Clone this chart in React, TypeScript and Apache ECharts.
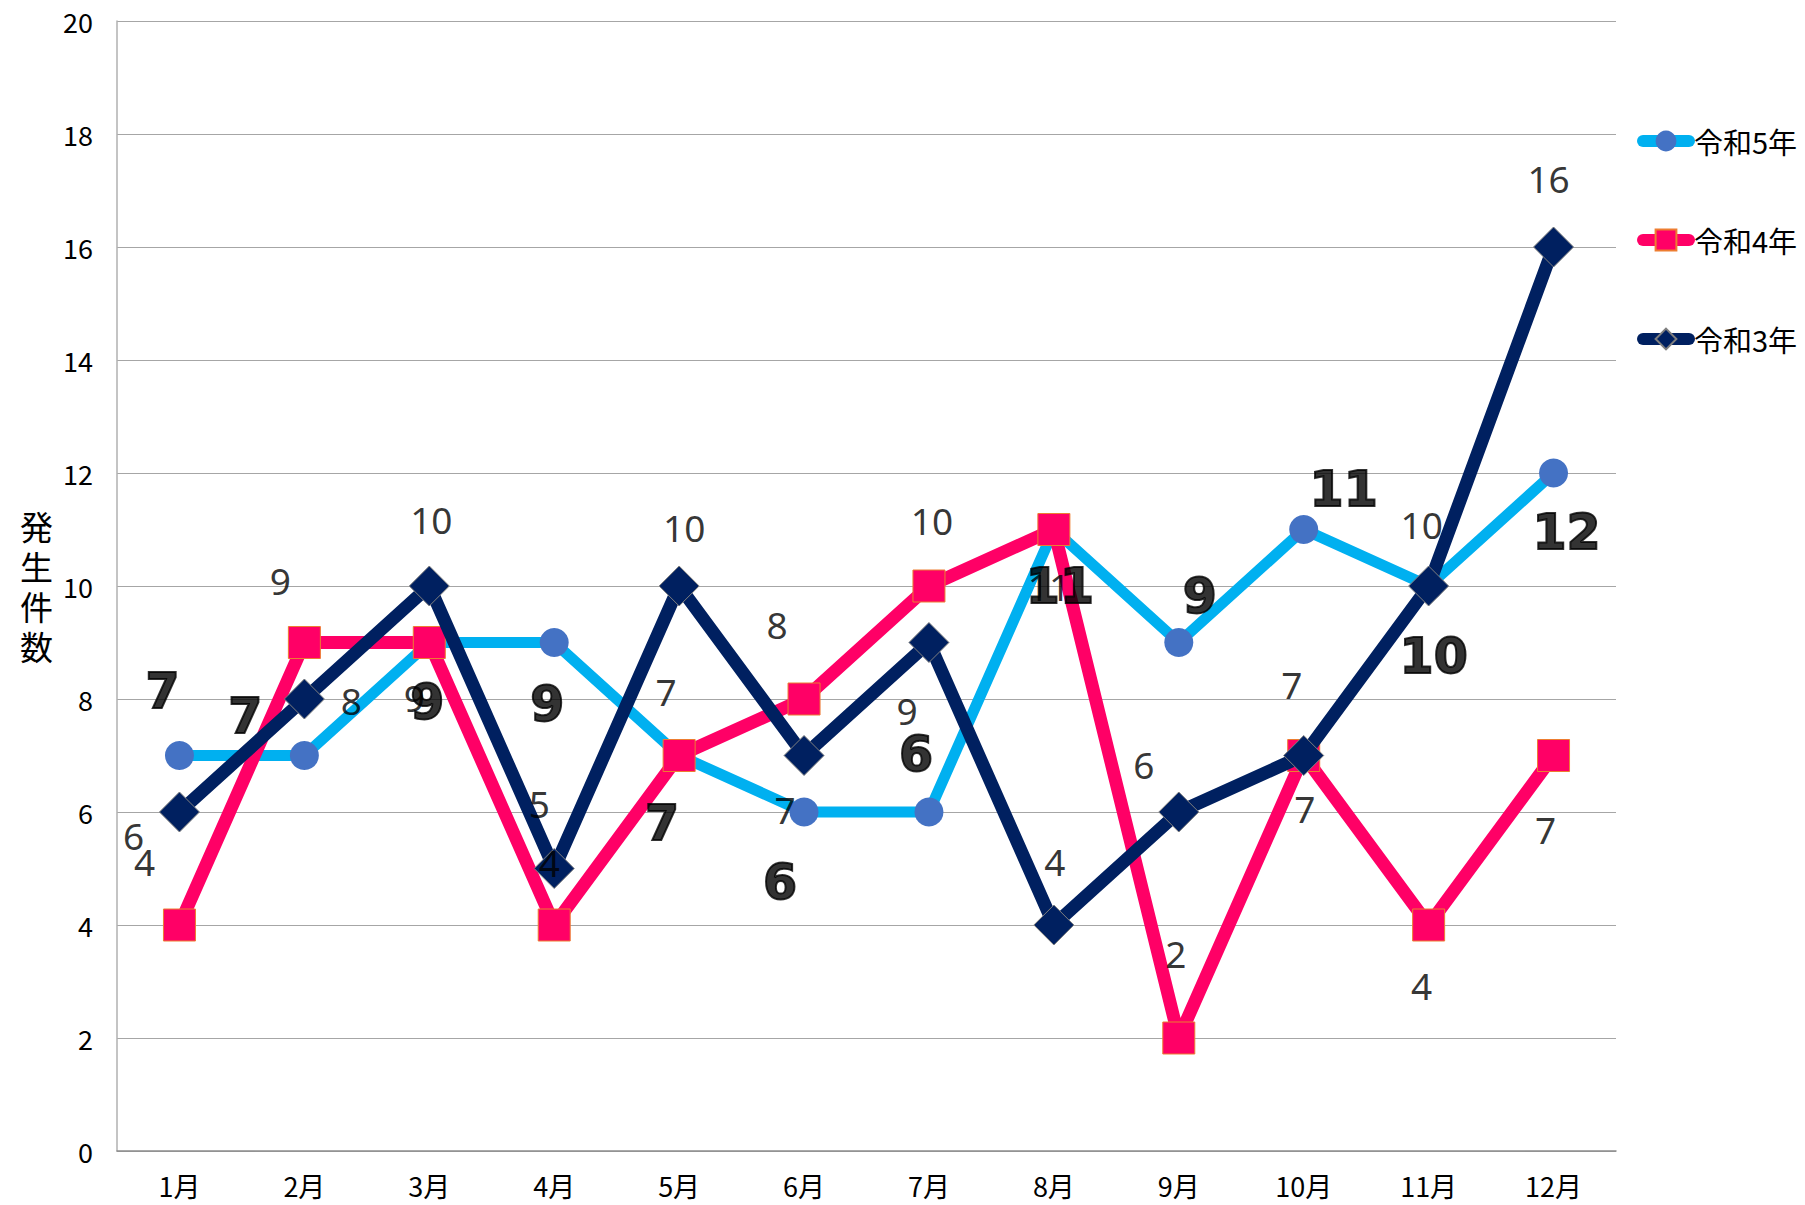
import React, { useEffect, useRef } from "react";
import * as echarts from "echarts";

const months = ["1月", "2月", "3月", "4月", "5月", "6月", "7月", "8月", "9月", "10月", "11月", "12月"];
const reiwa5 = [7, 7, 9, 9, 7, 6, 6, 11, 9, 11, 10, 12];
const reiwa4 = [4, 9, 9, 4, 7, 8, 10, 11, 2, 7, 4, 7];
const reiwa3 = [6, 8, 10, 5, 10, 7, 9, 4, 6, 7, 10, 16];
const seriesNames = ["令和5年", "令和4年", "令和3年"];
const yMin = 0;
const yMax = 20;
const yStep = 2;

// label offsets (px) relative to each point, as in the reference
const r5LabelOffsets = [[-17, -64], [-59, -39], [-2, 60], [-7, 62], [-17, 68], [-24, 70], [-13, -58], [6, 57], [21, -46], [40, -40], [5, 70], [13, 59]];
const r4LabelOffsets = [[-35, -64], [-24, -62], [-15, 55], [-5, -63], [-13, -64], [-27, -75], [3, -66], [-5, 57], [-3, -85], [1, 53], [-7, 60], [-8, 74]];
const r3LabelOffsets = [[-46, 23], [47, 1], [2, -67], [-15, -65], [5, -59], [-19, 54], [-22, 68], [1, -64], [-35, -48], [-12, -71], [-7, -62], [-5, -69]];

const JP = '"Noto Sans CJK JP", "Noto Sans", sans-serif';

function labelSeries(name: string, values: number[], offsets: number[][], z: number, style: any) {
  return {
    name,
    type: "scatter",
    z,
    silent: true,
    symbolSize: 1,
    itemStyle: { color: "rgba(0,0,0,0)" },
    label: {
      show: true,
      position: "inside",
      align: "center",
      verticalAlign: "middle",
      color: "#000",
      ...style,
    },
    data: values.map((v, i) => ({ value: v, label: { offset: offsets[i] } })),
  };
}

export default function App() {
  const ref = useRef<HTMLDivElement>(null);
  useEffect(() => {
    if (!ref.current) return;
    const chart = echarts.init(ref.current, undefined, { renderer: "svg" });
    const option: any = {
      animation: false,
      backgroundColor: "#ffffff",
      grid: { left: 117, right: 189, top: 21, bottom: 54, containLabel: false },
      legend: {
        data: seriesNames,
        orient: "vertical",
        left: 1632,
        top: 119,
        itemWidth: 46,
        itemHeight: 26,
        itemGap: 65,
        lineStyle: { width: 12, cap: "round" },
        textStyle: { fontFamily: JP, fontSize: 29, color: "#000", lineHeight: 34 },
      },
      xAxis: {
        type: "category",
        data: months,
        boundaryGap: true,
        axisLine: { lineStyle: { color: "#8c8c8c", width: 1.5 } },
        axisTick: { show: false },
        axisLabel: { fontFamily: JP, fontSize: 27, color: "#000", margin: 21 },
      },
      yAxis: {
        type: "value",
        min: yMin,
        max: yMax,
        interval: yStep,
        name: "発\n生\n件\n数",
        nameLocation: "middle",
        nameRotate: 0,
        nameGap: 64,
        nameTextStyle: { fontFamily: JP, fontSize: 33, color: "#000", lineHeight: 40 },
        axisLine: { show: true, lineStyle: { color: "#b0b0b0", width: 1.5 } },
        axisTick: { show: false },
        splitLine: { lineStyle: { color: "#a6a6a6", width: 1 } },
        axisLabel: { fontFamily: JP, fontSize: 27, color: "#000", margin: 24 },
      },
      series: [
        {
          name: seriesNames[0],
          type: "line",
          z: 2,
          data: reiwa5,
          symbol: "circle",
          symbolSize: 29,
          lineStyle: { color: "#00b0f0", width: 11, cap: "round", join: "round" },
          itemStyle: { color: "#4472c4", borderWidth: 0 },
        },
        {
          name: seriesNames[1],
          type: "line",
          z: 3,
          data: reiwa4,
          symbol: "rect",
          symbolSize: 32,
          lineStyle: { color: "#ff0066", width: 13, cap: "round", join: "round" },
          itemStyle: { color: "#ff0066", borderColor: "#ed7d31", borderWidth: 1 },
        },
        {
          name: seriesNames[2],
          type: "line",
          z: 4,
          data: reiwa3,
          symbol: "diamond",
          symbolSize: 40,
          lineStyle: { color: "#002060", width: 13, cap: "round", join: "round" },
          itemStyle: { color: "#002060", borderColor: "#7f7f7f", borderWidth: 1 },
        },
        labelSeries("r4label", reiwa4, r4LabelOffsets, 10, { fontFamily: '"Noto Sans", sans-serif', fontSize: 37 }),
        labelSeries("r3label", reiwa3, r3LabelOffsets, 10, { fontFamily: '"Noto Sans", sans-serif', fontSize: 37 }),
        labelSeries("r5label", reiwa5, r5LabelOffsets, 11, {
          fontFamily: '"DejaVu Sans", sans-serif',
          fontSize: 49,
          fontWeight: "bold",
          textBorderColor: "#000",
          textBorderWidth: 2,
        }),
      ],
    };
    chart.setOption(option);
    return () => chart.dispose();
  }, []);
  return <div ref={ref} style={{ position: "fixed", left: 0, top: 0, width: 1805, height: 1205 }} />;
}
